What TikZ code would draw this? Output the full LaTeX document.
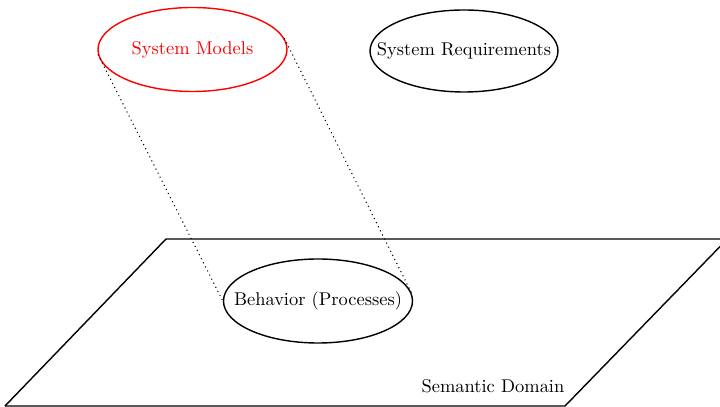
\documentclass[tikz,border=0pt]{standalone}
\usepackage[table]{xcolor}
\usepackage{tikz}
\usetikzlibrary{shapes.geometric}

\begin{document}
\begin{tikzpicture}[blob/.style={ellipse,draw,thick,minimum width=3.78cm,minimum height=1.68cm,inner sep=-1cm,font=\fontsize{10.5pt}{12pt}\selectfont}]
\useasboundingbox(0,0)rectangle(14.4,8.14);
\draw[thick](0.1,0.02)--(3.32,3.36)--(14.45,3.36);
\draw[thick](0.1,0.02)--(11.3,0.02)--(14.45,3.26);
\draw(9.86,0.42)node[font=\fontsize{10.5pt}{12pt}\selectfont](domain){Semantic Domain};
\draw(3.85,7.15)node[blob,red](models){System Models};
\draw(9.28,7.12)node[blob,minimum width=3.76cm,minimum height=1.64cm](reqs){System Requirements};
\draw(6.36,2.12)node[blob](behavior){Behavior (Processes)};
\draw[dotted,semithick](models.183)--(behavior.west);
\draw[dotted,semithick](models.7)--(behavior.5);
\end{tikzpicture}
\end{document}
